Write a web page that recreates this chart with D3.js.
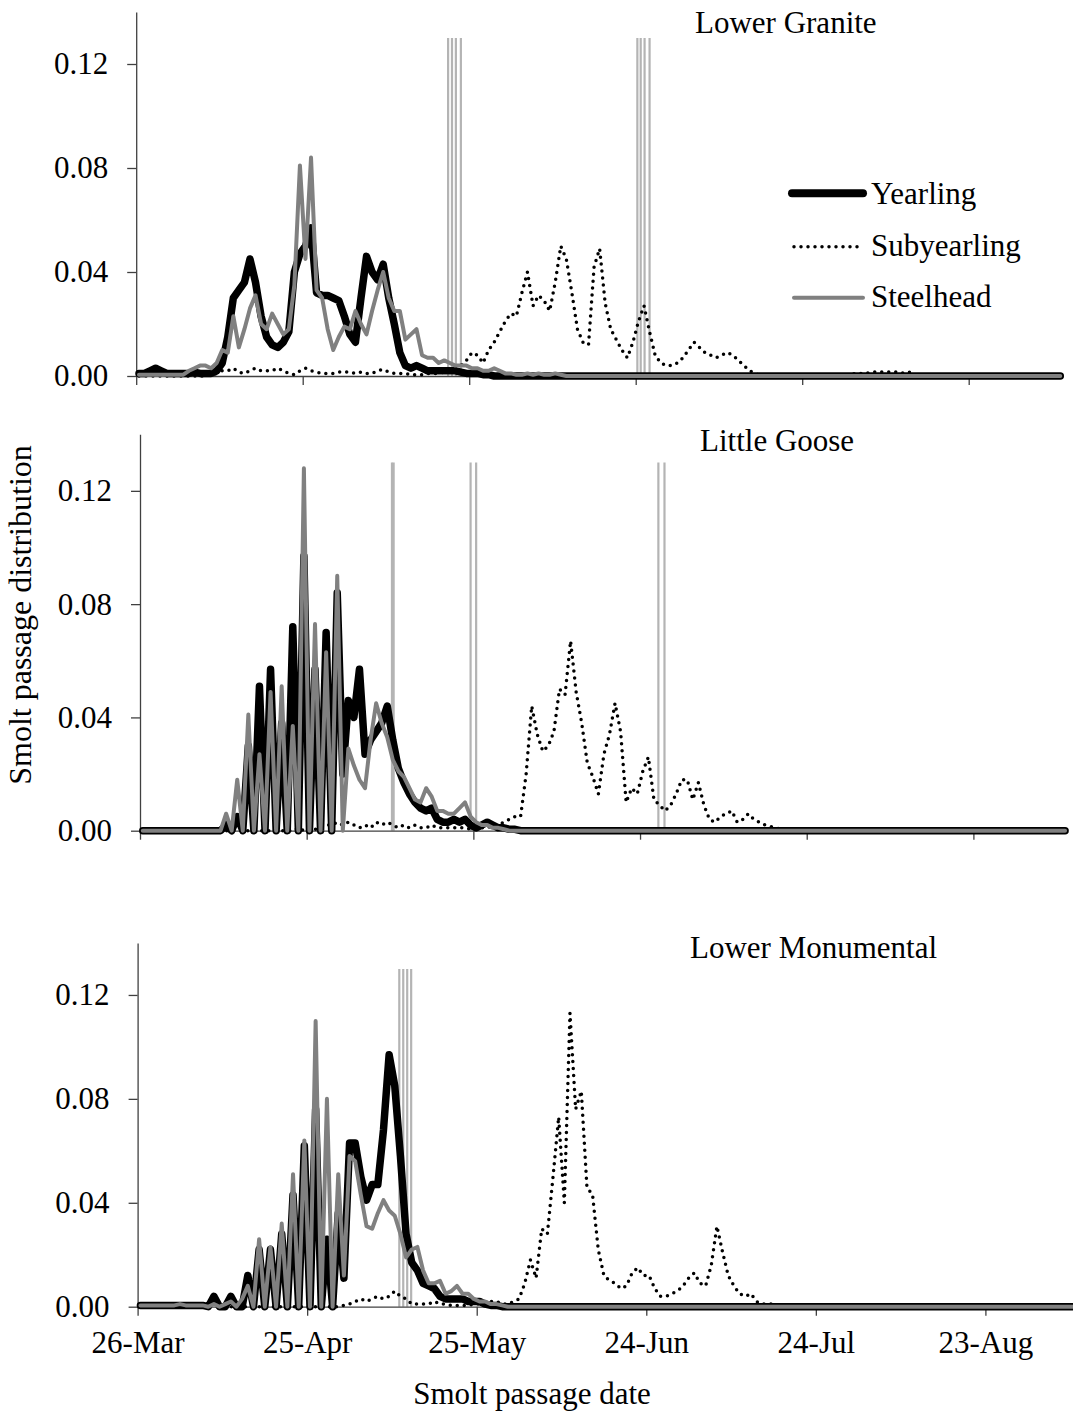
<!DOCTYPE html>
<html><head><meta charset="utf-8">
<script src="https://cdnjs.cloudflare.com/ajax/libs/d3/7.8.5/d3.min.js"></script>
<style>
body{margin:0;background:#fff}
svg text{font-family:"Liberation Serif","Times New Roman",serif;fill:#000}
</style>
</head><body>
<svg id="c" width="1073" height="1414"></svg>
<script>
// ---------- data (daily values starting 26-Mar = day 0) ----------
const tickLabels = ["26-Mar","25-Apr","25-May","24-Jun","24-Jul","23-Aug"];
const tickDays = [0,30,60,90,120,150];
const yTicks = [0,0.04,0.08,0.12];
const seriesNames = ["Yearling","Subyearling","Steelhead"];
const panelNames = ["Lower Granite","Little Goose","Lower Monumental"];

// Lower Granite
const lgrYearling = [0.001,0.001,0.002,0.003,0.002,0.001,0.001,0.001,0.001,0.001,0.0015,0.001,0.001,0.001,0.002,0.005,0.015,0.030,0.033,0.036,0.045,0.036,0.023,0.015,0.012,0.011,0.013,0.017,0.040,0.047,0.050,0.057,0.032,0.031,0.031,0.030,0.029,0.023,0.016,0.013,0.030,0.046,0.040,0.037,0.043,0.030,0.020,0.009,0.004,0.003,0.004,0.003,0.002,0.002,0.002,0.002,0.002,0.002,0.0015,0.001,0.001,0.001,0.0005,0.0005,0];
const lgrSubyearling = [0,0,0,0,0,0,0,0,0,0,0,0,0,0.0005,0.001,0.002,0.002,0.003,0.0015,0.001,0.002,0.003,0.002,0.002,0.002,0.003,0.002,0.001,0.0005,0.002,0.003,0.002,0.0015,0.001,0.001,0.001,0.0015,0.0015,0.0015,0.001,0.0015,0.001,0.001,0.002,0.0025,0.0015,0.001,0.001,0.001,0.0005,0.0005,0.0005,0.001,0.001,0.001,0.0015,0.002,0.003,0.004,0.006,0.009,0.008,0.005,0.010,0.013,0.017,0.021,0.024,0.023,0.032,0.040,0.027,0.031,0.029,0.025,0.036,0.050,0.045,0.032,0.018,0.013,0.012,0.042,0.049,0.028,0.018,0.014,0.010,0.007,0.013,0.021,0.027,0.017,0.008,0.005,0.004,0.004,0.005,0.007,0.010,0.013,0.011,0.009,0.008,0.007,0.008,0.009,0.008,0.006,0.004,0.002,0.001,0,0,0,0,0,0,0,0,0,0,0.0008,0,0,0,0,0,0,0.001,0.001,0.001,0.0015,0.0015,0.0015,0.0015,0.0015,0.0015,0.001,0.0015,0];
const lgrSteelhead = [0.0005,0.0005,0.0005,0.0005,0.0005,0.0005,0.0005,0.0005,0.0005,0.002,0.003,0.004,0.004,0.003,0.005,0.010,0.009,0.023,0.011,0.018,0.026,0.031,0.020,0.018,0.024,0.020,0.016,0.018,0.035,0.081,0.045,0.084,0.033,0.030,0.018,0.010,0.015,0.019,0.018,0.025,0.020,0.016,0.025,0.033,0.040,0.030,0.025,0.025,0.014,0.016,0.018,0.008,0.007,0.007,0.005,0.006,0.005,0.004,0.004,0.004,0.003,0.003,0.002,0.002,0.003,0.002,0.001,0.001,0.0005,0.0005,0.001,0.0005,0.001,0.0005,0.0005,0.001,0.0005];
const lgrMarkers = [56.2,56.9,57.6,58.5,90.3,90.9,91.6,92.5];

// Little Goose
const lgsYearling = [0,0,0,0,0,0,0,0,0,0,0,0,0,0,0,0.002,0,0.005,0,0.030,0,0.051,0,0.057,0,0.038,0,0.072,0,0.097,0,0.057,0,0.070,0,0.084,0.020,0.046,0.040,0.057,0.027,0.032,0.035,0.038,0.044,0.032,0.022,0.017,0.013,0.010,0.008,0.007,0.008,0.004,0.003,0.003,0.004,0.003,0.004,0.002,0.001,0.002,0.003,0.002,0.001,0.001,0.0005,0.0005];
const lgsSubyearling = [0,0,0,0,0,0,0,0,0,0,0,0,0,0,0,0,0,0,0,0,0,0,0,0,0,0,0,0,0.001,0,0.001,0.0005,0.001,0.002,0.002,0.003,0.002,0.003,0.002,0.001,0.002,0.001,0.003,0.002,0.003,0.002,0.001,0.002,0.001,0.002,0.001,0.001,0.002,0.001,0.001,0.001,0.001,0.001,0.001,0.0005,0.001,0.001,0.001,0.002,0.002,0.003,0.004,0.005,0.005,0.020,0.044,0.034,0.028,0.030,0.035,0.050,0.048,0.067,0.049,0.038,0.024,0.019,0.013,0.027,0.034,0.045,0.035,0.010,0.015,0.013,0.021,0.026,0.011,0.009,0.007,0.009,0.013,0.018,0.018,0.011,0.017,0.009,0.004,0.003,0.005,0.006,0.007,0.003,0.004,0.006,0.004,0.003,0.002,0.0015,0.001,0.0005,0,0,0.0005,0,0,0,0,0,0,0,0,0,0,0,0.0005,0,0,0,0.0005,0,0,0.0005,0];
const lgsSteelhead = [0,0,0,0,0,0,0,0,0,0,0,0,0,0,0,0.006,0,0.018,0,0.041,0,0.027,0,0.049,0,0.051,0,0.037,0,0.128,0,0.073,0,0.063,0,0.090,0,0.029,0.023,0.018,0.015,0.032,0.045,0.038,0.033,0.025,0.021,0.019,0.015,0.011,0.010,0.015,0.012,0.007,0.007,0.006,0.006,0.008,0.010,0.005,0.003,0.002,0.002,0.001,0.001,0.0005];
const lgsMarkers = [45.35,45.65,59.5,60.5,93.3,94.4];

// Lower Monumental
const lmnYearling = [0.0005,0.0005,0.0005,0.0005,0.0005,0.0005,0.0005,0.0005,0.0005,0.0005,0.0005,0.0005,0,0.004,0,0,0.004,0,0,0.012,0,0.022,0,0.022,0,0.028,0,0.043,0,0.062,0,0.076,0,0.026,0,0.036,0.011,0.063,0.063,0.050,0.041,0.047,0.047,0.068,0.097,0.085,0.058,0.028,0.017,0.014,0.009,0.008,0.007,0.004,0.003,0.003,0.003,0.003,0.002,0.002,0.002,0.001,0.0005,0.0005,0];
const lmnSubyearling = [0,0,0,0,0,0,0,0,0,0,0,0,0,0,0,0,0,0,0,0,0,0,0,0,0,0,0,0,0,0,0,0,0,0,0,0,0.0005,0.001,0.002,0.003,0.002,0.003,0.004,0.003,0.004,0.006,0.004,0.003,0.001,0.001,0.001,0.001,0.002,0.001,0.001,0.0005,0.0005,0.0005,0.0005,0.001,0.001,0.002,0.002,0.002,0.001,0.001,0.002,0.003,0.009,0.018,0.011,0.030,0.028,0.050,0.073,0.040,0.113,0.076,0.083,0.046,0.043,0.022,0.012,0.010,0.009,0.007,0.008,0.013,0.015,0.012,0.012,0.007,0.004,0.004,0.005,0.006,0.008,0.011,0.013,0.009,0.008,0.016,0.031,0.021,0.012,0.008,0.005,0.004,0.005,0.002,0.001,0.001,0.001,0];
const lmnSteelhead = [0.0005,0.0005,0.0005,0.0005,0.0005,0.0005,0.0005,0.001,0.0005,0.0005,0.0005,0.0005,0,0.001,0,0.001,0.002,0,0.003,0.008,0,0.026,0,0.023,0,0.032,0,0.051,0,0.064,0,0.110,0,0.080,0,0.051,0.012,0.058,0.056,0.043,0.031,0.030,0.036,0.041,0.037,0.035,0.028,0.019,0.022,0.023,0.014,0.009,0.009,0.010,0.005,0.006,0.008,0.005,0.005,0.003,0.002,0.002,0.001,0.001,0.0005];
const lmnMarkers = [46.3,47.0,47.7,48.4];
const markerTop = 0.13;

// ---------- layout ----------
const NDAYS = 167;
const layout = [
  {x0:136.2, pxDay:5.55,  yBase:376,   yTop:12,    tx:695, ty:33},
  {x0:140,   pxDay:5.556, yBase:830.7, yTop:434.2, tx:700, ty:451},
  {x0:137.6, pxDay:5.652, yBase:1306.7,yTop:943,   tx:690, ty:958}
];
const panelData = [
  {series:[lgrYearling,lgrSubyearling,lgrSteelhead], markers:lgrMarkers},
  {series:[lgsYearling,lgsSubyearling,lgsSteelhead], markers:lgsMarkers},
  {series:[lmnYearling,lmnSubyearling,lmnSteelhead], markers:lmnMarkers}
];
const styles = [
  {stroke:"#000", width:7.5, dash:null, cap:"round"},
  {stroke:"#000", width:3.5, dash:"0 7", cap:"round"},
  {stroke:"#808080", width:4, dash:null, cap:"round"}
];
const drawOrder = [0,1,2];
const pad = a => { const r = a.slice(); while (r.length < NDAYS) r.push(0); return r; };

const svg = d3.select("#c");
const FS = 31;

panelData.forEach((p, pi) => {
  const L = layout[pi];
  const dmax = 166.5;
  const x = d3.scaleLinear().domain([0, dmax]).range([L.x0, L.x0 + dmax * L.pxDay]);
  const y = d3.scaleLinear().domain([0, 0.14]).range([L.yBase, L.yTop]);
  const g = svg.append("g");

  // markers
  g.selectAll("line.mk").data(p.markers).join("line")
    .attr("x1", d => x(d)).attr("x2", d => x(d))
    .attr("y1", y(0)).attr("y2", y(markerTop))
    .attr("stroke", "#b4b4b4").attr("stroke-width", 2.2);

  // axes
  const ya = g.append("g").attr("transform", `translate(${L.x0},0)`)
    .call(d3.axisLeft(y).tickValues(yTicks).tickFormat(d3.format(".2f"))
      .tickSize(9).tickSizeOuter(0).tickPadding(19));
  const xa = g.append("g").attr("transform", `translate(0,${L.yBase})`)
    .call(d3.axisBottom(x).tickValues(tickDays)
      .tickFormat((d, i) => pi === 2 ? tickLabels[i] : "")
      .tickSize(9).tickSizeOuter(0).tickPadding(15));
  [ya, xa].forEach(a => {
    a.attr("font-family", null).attr("font-size", null);
    a.selectAll("path,line").attr("stroke", "#404040").attr("stroke-width", 1.3);
    a.selectAll("text").style("font-size", FS + "px");
  });

  // series
  const line = d3.line().x((v, i) => x(i + 0.5)).y(v => y(v));
  drawOrder.forEach(si => {
    const s = styles[si];
    g.append("path").datum(pad(p.series[si]))
      .attr("d", line).attr("fill", "none")
      .attr("stroke", s.stroke).attr("stroke-width", s.width)
      .attr("stroke-linejoin", "round").attr("stroke-linecap", s.cap)
      .attr("stroke-dasharray", s.dash);
  });

  // title
  g.append("text").attr("x", L.tx).attr("y", L.ty).style("font-size", FS + "px").text(panelNames[pi]);

  // legend in first panel
  if (pi === 0) {
    const ly = [193.3, 246.7, 297.7];
    const lx = [[792, 863], [794, 858], [794, 863]];
    const ty = [204, 256, 307];
    seriesNames.forEach((n, si) => {
      const s = styles[si];
      g.append("line").attr("x1", lx[si][0]).attr("x2", lx[si][1]).attr("y1", ly[si]).attr("y2", ly[si])
        .attr("stroke", s.stroke).attr("stroke-width", si === 0 ? 8 : s.width).attr("stroke-linecap", s.cap)
        .attr("stroke-dasharray", s.dash);
      g.append("text").attr("x", 871).attr("y", ty[si]).style("font-size", FS + "px").text(n);
    });
  }
});

// axis titles
svg.append("text").attr("x", 532).attr("y", 1404).attr("text-anchor", "middle")
  .style("font-size", FS + "px").text("Smolt passage date");
svg.append("text").attr("transform", "translate(31,615) rotate(-90)").attr("text-anchor", "middle")
  .style("font-size", "32px").text("Smolt passage distribution");
</script>
</body></html>
